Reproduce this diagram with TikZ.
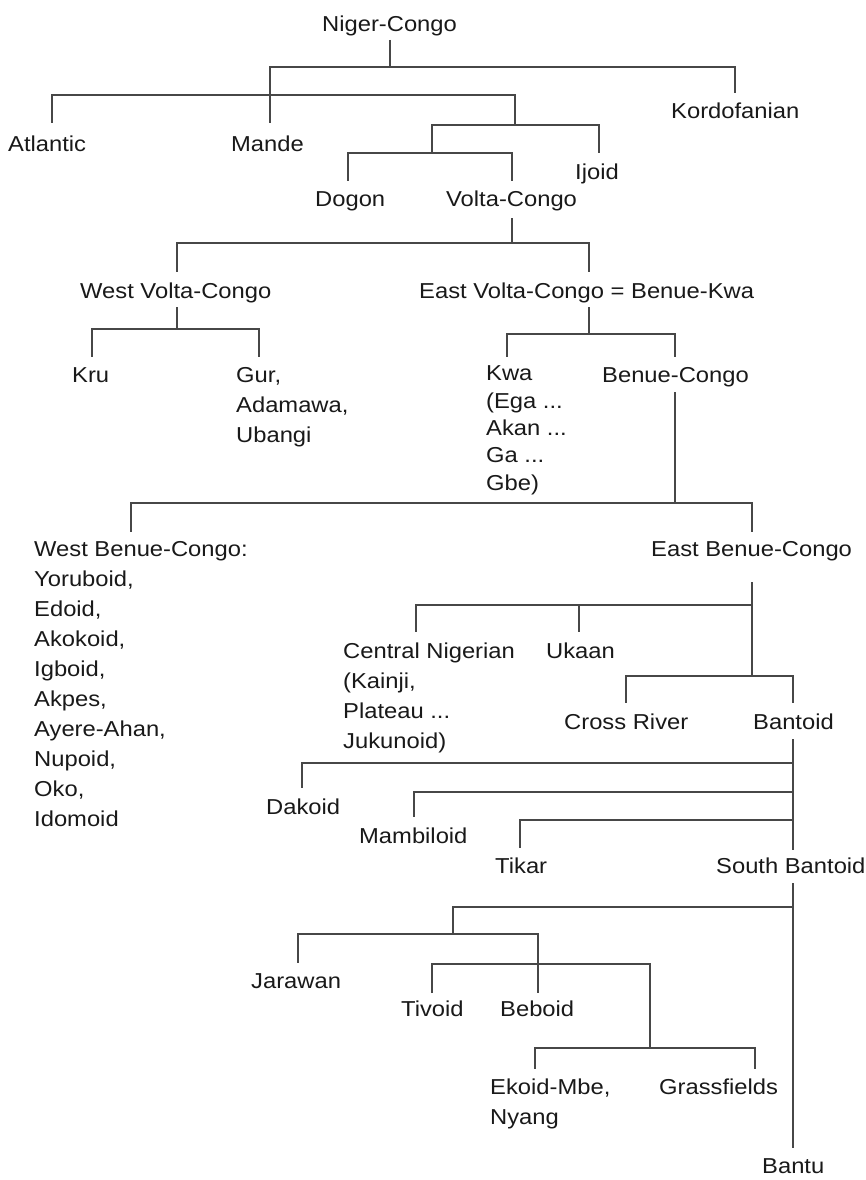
\documentclass[tikz,border=0pt]{standalone}
\usepackage{fontspec}
\setmainfont[FakeStretch=1.1]{Liberation Sans}
\begin{document}
\begin{tikzpicture}[x=1pt,y=-1pt,
  lab/.style={anchor=north west,inner sep=0pt,align=left,text=black!90,
              font=\fontsize{21.6}{30}\selectfont},
  tightlab/.style={lab,font=\fontsize{21.6}{27.3}\selectfont},
  link/.style={draw=black!72,line width=1.8pt}]
\fill[white] (0,0) rectangle (866,1180);
\useasboundingbox (0,0) rectangle (866,1180);

% ---------- labels ----------
\node[lab] (nc)    at (322,10.5)    {\strut Niger-Congo};
\node[lab] (atl)   at (8,130.5)     {\strut Atlantic};
\node[lab] (mande) at (231,130.5)   {\strut Mande};
\node[lab] (kord)  at (671,97.5)    {\strut Kordofanian};
\node[lab] (ijoid) at (575,158.5)   {\strut Ijoid};
\node[lab] (dogon) at (315,185.5)   {\strut Dogon};
\node[lab] (vc)    at (446,185.5)   {\strut Volta-Congo};
\node[lab] (wvc)   at (80,277.5)    {\strut West Volta-Congo};
\node[lab] (evc)   at (419,277.5)   {\strut East Volta-Congo = Benue-Kwa};
\node[lab] (kru)   at (72,361.5)    {\strut Kru};
\node[lab] (gur)   at (236,361.5)   {\strut Gur,\\Adamawa,\\Ubangi};
\node[tightlab] (kwa) at (486,361.5) {\strut Kwa\\(Ega ...\\Akan ...\\Ga ...\\Gbe)};
\node[lab] (bc)    at (602,361.5)   {\strut Benue-Congo};
\node[lab] (wbc)   at (34,535.5)    {\strut West Benue-Congo:\\Yoruboid,\\Edoid,\\Akokoid,\\Igboid,\\Akpes,\\Ayere-Ahan,\\Nupoid,\\Oko,\\Idomoid};
\node[lab] (ebc)   at (651,535.5)   {\strut East Benue-Congo};
\node[lab] (cn)    at (343,637.5)   {\strut Central Nigerian\\(Kainji,\\Plateau ...\\Jukunoid)};
\node[lab] (uk)    at (546,637.5)   {\strut Ukaan};
\node[lab] (cr)    at (564,708.5)   {\strut Cross River};
\node[lab] (bant)  at (753,708.5)   {\strut Bantoid};
\node[lab] (dak)   at (266,793.5)   {\strut Dakoid};
\node[lab] (mam)   at (359,822.5)   {\strut Mambiloid};
\node[lab] (tik)   at (495,852.5)   {\strut Tikar};
\node[lab] (sb)    at (716,852.5)   {\strut South Bantoid};
\node[lab] (jar)   at (251,967.5)   {\strut Jarawan};
\node[lab] (tiv)   at (401,995.5)   {\strut Tivoid};
\node[lab] (beb)   at (500,995.5)   {\strut Beboid};
\node[lab] (ek)    at (490,1073.5)  {\strut Ekoid-Mbe,\\Nyang};
\node[lab] (gr)    at (659,1073.5)  {\strut Grassfields};
\node[lab] (bantu) at (762,1152.5)  {\strut Bantu};

% ---------- line ends and junctions ----------
\coordinate (nc-b)    at (390,40);
\coordinate (j-nc)    at (390,67);
\coordinate (mande-t) at (270,123);
\coordinate (kord-t)  at (735,93);
\coordinate (j-ac)    at (270,95);
\coordinate (atl-t)   at (52,123);
\coordinate (j-x)     at (515,125);
\coordinate (ijoid-t) at (599,153);
\coordinate (j-dvc)   at (432,153);
\coordinate (dogon-t) at (348,181);
\coordinate (vc-t)    at (512,181);

\coordinate (vc-b)    at (512,218);
\coordinate (j-vc)    at (512,243);
\coordinate (wvc-t)   at (177,272);
\coordinate (evc-t)   at (589,272);

\coordinate (wvc-b)   at (177,307);
\coordinate (j-wvc)   at (177,329);
\coordinate (kru-t)   at (92,357);
\coordinate (gur-t)   at (259,357);

\coordinate (evc-b)   at (589,307);
\coordinate (j-evc)   at (589,334);
\coordinate (kwa-t)   at (507,357);
\coordinate (bc-t)    at (675,357);

\coordinate (bc-b)    at (675,392);
\coordinate (j-bc)    at (675,503);
\coordinate (wbc-t)   at (131,532);
\coordinate (ebc-t)   at (752,532);

\coordinate (ebc-b)   at (752,582);
\coordinate (j-cn)    at (752,605);
\coordinate (cn-t)    at (416,632);
\coordinate (uk-t)    at (579,632);
\coordinate (j-ebc)   at (752,676);
\coordinate (cr-t)    at (626,703);
\coordinate (bant-t)  at (793,703);

\coordinate (bant-b)  at (793,739);
\coordinate (j-dak)   at (793,763);
\coordinate (dak-t)   at (302,788);
\coordinate (j-mam)   at (793,792);
\coordinate (mam-t)   at (414,817);
\coordinate (j-tik)   at (793,820);
\coordinate (tik-t)   at (520,848);
\coordinate (sb-t)    at (793,850);

\coordinate (sb-b)    at (793,883);
\coordinate (j-sb)    at (793,907);
\coordinate (bantu-t) at (793,1148);
\coordinate (j-jb)    at (453,934);
\coordinate (jar-t)   at (298,963);
\coordinate (beb-t)   at (538,993);
\coordinate (tiv-t)   at (432,993);
\coordinate (j-eg)    at (650,964);
\coordinate (j-eg2)   at (650,1048);
\coordinate (ek-t)    at (535,1069);
\coordinate (gr-t)    at (755,1069);

% ---------- connectors ----------
\draw[link] (nc-b) -- (j-nc);
\draw[link] (j-nc) -| (mande-t);
\draw[link] (j-nc) -| (kord-t);
\draw[link] (j-ac) -| (atl-t);
\draw[link] (j-ac) -| (j-x);
\draw[link] (j-x) -| (ijoid-t);
\draw[link] (j-x) -| (j-dvc);
\draw[link] (j-dvc) -| (dogon-t);
\draw[link] (j-dvc) -| (vc-t);

\draw[link] (vc-b) -- (j-vc);
\draw[link] (j-vc) -| (wvc-t);
\draw[link] (j-vc) -| (evc-t);

\draw[link] (wvc-b) -- (j-wvc);
\draw[link] (j-wvc) -| (kru-t);
\draw[link] (j-wvc) -| (gur-t);

\draw[link] (evc-b) -- (j-evc);
\draw[link] (j-evc) -| (kwa-t);
\draw[link] (j-evc) -| (bc-t);

\draw[link] (bc-b) -- (j-bc);
\draw[link] (j-bc) -| (wbc-t);
\draw[link] (j-bc) -| (ebc-t);

\draw[link] (ebc-b) -- (j-ebc);
\draw[link] (j-cn) -| (cn-t);
\draw[link] (j-cn) -| (uk-t);
\draw[link] (j-ebc) -| (cr-t);
\draw[link] (j-ebc) -| (bant-t);

\draw[link] (bant-b) -- (sb-t);
\draw[link] (j-dak) -| (dak-t);
\draw[link] (j-mam) -| (mam-t);
\draw[link] (j-tik) -| (tik-t);

\draw[link] (sb-b) -- (bantu-t);
\draw[link] (j-sb) -| (j-jb);
\draw[link] (j-jb) -| (jar-t);
\draw[link] (j-jb) -| (beb-t);
\draw[link] (tiv-t) |- (j-eg) -- (j-eg2);
\draw[link] (j-eg2) -| (ek-t);
\draw[link] (j-eg2) -| (gr-t);
\end{tikzpicture}
\end{document}
